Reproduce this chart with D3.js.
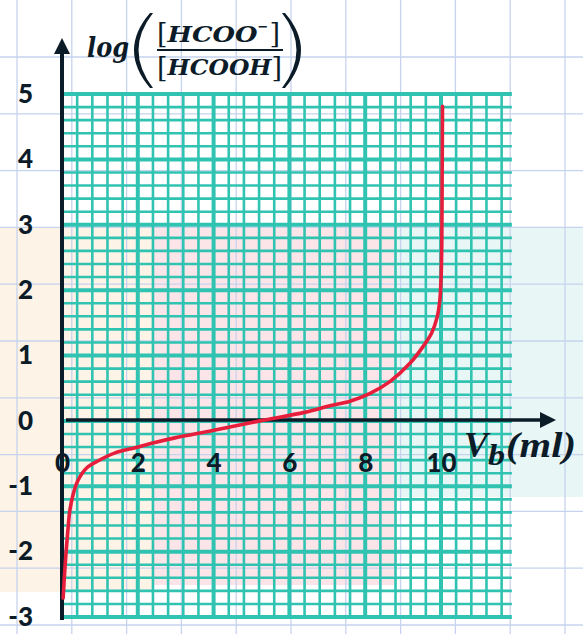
<!DOCTYPE html>
<html>
<head>
<meta charset="utf-8">
<script src="https://cdn.jsdelivr.net/npm/d3@7"></script>
<style>
  html, body { margin: 0; padding: 0; background: #ffffff; }
  svg { display: block; }
</style>
</head>
<body>
<svg id="chart" width="583" height="634"></svg>
<script>
// ---- data ----
const vb = [0.03, 0.08, 0.15, 0.21, 0.30, 0.43, 0.65, 0.96, 1.40, 1.93, 2.45, 2.98, 4.04, 5.22, 6.40, 7.07, 7.60, 8.13, 8.65, 9.18, 9.53, 9.75, 9.90, 9.97, 10.00, 10.02, 10.03, 10.04];
const logRatio = [-2.71, -2.23, -1.71, -1.36, -1.11, -0.90, -0.72, -0.61, -0.49, -0.41, -0.33, -0.26, -0.14, 0.00, 0.13, 0.23, 0.30, 0.42, 0.60, 0.88, 1.14, 1.34, 1.59, 1.85, 2.16, 2.67, 3.69, 4.81];
const xTicks = [0, 2, 4, 6, 8, 10];
const yTicks = [5, 4, 3, 2, 1, 0, -1, -2, -3];
const xTickLabels = ["0", "2", "4", "6", "8", "10"];
const yTickLabels = ["5", "4", "3", "2", "1", "0", "-1", "-2", "-3"];

const svg = d3.select("#chart");
const W = 583, H = 634;

const x = d3.scaleLinear().domain([0, 10]).range([62, 441]);
const y = d3.scaleLinear().domain([-3, 5]).range([617, 94]);
const xGridEnd = 11.87;

const ink = "#0c1b28";
const teal = "#31c3b1";

// ---- background paper tints (watermark) ----
const bg = svg.append("g");
bg.append("rect").attr("x", 0).attr("y", 227).attr("width", 152).attr("height", 365).attr("fill", "#fdf3e7");
bg.append("rect").attr("x", 152).attr("y", 227).attr("width", 244).attr("height", 358).attr("fill", "#fbe5e8");
bg.append("rect").attr("x", 396).attr("y", 227).attr("width", 187).attr("height", 270).attr("fill", "#e8f6f5");

// paper grid
const paper = svg.append("g").attr("stroke", "#c6d3ee").attr("stroke-width", 1.3);
d3.range(17, W, 54.8).forEach(px => {
  paper.append("line").attr("x1", px).attr("x2", px).attr("y1", 0).attr("y2", H);
});
d3.range(57, H, 56.8).forEach(py => {
  paper.append("line").attr("x1", 0).attr("x2", W).attr("y1", py).attr("y2", py);
});

// ---- teal millimetre grid ----
const grid = svg.append("g").attr("stroke", teal);
d3.range(0, 30).forEach(k => {
  const v = k * 0.4;
  grid.append("line")
    .attr("x1", x(v)).attr("x2", x(v))
    .attr("y1", y(5)).attr("y2", y(-3))
    .attr("stroke-width", k % 5 === 0 ? 4 : 2.6);
});
d3.range(0, 41).forEach(k => {
  const v = -3 + k * 0.2;
  grid.append("line")
    .attr("x1", x(0)).attr("x2", x(xGridEnd))
    .attr("y1", y(v)).attr("y2", y(v))
    .attr("stroke-width", k % 5 === 0 ? 4 : 2.6);
});

// ---- axes lines with arrows ----
svg.append("line").attr("x1", x(0) + 4).attr("x2", 542)
  .attr("y1", y(0) - 1).attr("y2", y(0) - 1)
  .attr("stroke", ink).attr("stroke-width", 3.5);
svg.append("path").attr("d", `M556,${y(0) - 1} L540,${y(0) - 9} L540,${y(0) + 7} Z`).attr("fill", ink);

svg.append("line").attr("x1", x(0)).attr("x2", x(0))
  .attr("y1", 620).attr("y2", 52)
  .attr("stroke", ink).attr("stroke-width", 4);
svg.append("path").attr("d", `M${x(0)},38 L${x(0) - 8},54 L${x(0) + 8},54 Z`).attr("fill", ink);

// ---- curve ----
const pts = vb.map((v, i) => [v, logRatio[i]]);
const line = d3.line().x(d => x(d[0])).y(d => y(d[1])).curve(d3.curveCatmullRom.alpha(0.5));
svg.append("path").datum(pts).attr("d", line)
  .attr("fill", "none").attr("stroke", "#e61e3c").attr("stroke-width", 3.6)
  .attr("stroke-linecap", "round").attr("stroke-linejoin", "round");

// ---- tick labels via d3 axes ----
const tickFont = "Lato, 'Open Sans', sans-serif";
const yAxis = d3.axisLeft(y).tickValues(yTicks).tickSize(0).tickPadding(29)
  .tickFormat((d, i) => yTickLabels[i]);
const gy = svg.append("g").attr("transform", `translate(${x(0)},0)`).call(yAxis);
gy.select(".domain").remove();
gy.selectAll("text").attr("fill", ink).style("font-family", tickFont)
  .style("font-weight", 900).style("font-size", "26px");

const xAxis = d3.axisBottom(x).tickValues(xTicks).tickSize(0).tickPadding(33)
  .tickFormat((d, i) => xTickLabels[i]);
const gx = svg.append("g").attr("transform", `translate(0,${y(0)})`).call(xAxis);
gx.select(".domain").remove();
gx.selectAll("text").attr("fill", ink).style("font-family", tickFont)
  .style("font-weight", 900).style("font-size", "26px");

// ---- axis titles ----
const serif = "'DejaVu Serif', 'Liberation Serif', serif";
const xSerif = "'Liberation Serif', 'DejaVu Serif', serif";
// x title: V_b(ml)
const xt = svg.append("text").attr("x", 464).attr("y", 457).attr("fill", ink)
  .style("font-family", xSerif).style("font-weight", 700).style("font-style", "italic");
xt.append("tspan").attr("textLength", 24).attr("lengthAdjust", "spacingAndGlyphs")
  .style("font-size", "36px").text("V");
xt.append("tspan").attr("dy", 8).attr("textLength", 17).attr("lengthAdjust", "spacingAndGlyphs")
  .style("font-size", "30px").text("b");
xt.append("tspan").attr("dy", -8).attr("dx", 1).attr("textLength", 70).attr("lengthAdjust", "spacingAndGlyphs")
  .style("font-size", "36px").text("(ml)");

// y title
svg.append("text").attr("x", 87).attr("y", 57).attr("fill", ink)
  .attr("textLength", 42).attr("lengthAdjust", "spacingAndGlyphs")
  .style("font-family", serif).style("font-weight", 700).style("font-style", "italic")
  .style("font-size", "28px").text("log");

// big parentheses
svg.append("path")
  .attr("d", "M153,13 Q124,50 153,88 L150,88 Q118,50 150,13 Z")
  .attr("fill", ink);
svg.append("path")
  .attr("d", "M282,13 Q311,50 282,88 L285,88 Q317,50 285,13 Z")
  .attr("fill", ink);

const fracFont = "'DejaVu Serif', serif";
// numerator [HCOO−]
const num = svg.append("text").attr("x", 157).attr("y", 43).attr("fill", ink)
  .style("font-family", fracFont).style("font-size", "27px");
num.append("tspan").text("[");
num.append("tspan").attr("dy", -1).attr("textLength", 90).attr("lengthAdjust", "spacingAndGlyphs")
  .style("font-weight", 700).style("font-style", "italic").style("font-size", "23px").text("HCOO");
num.append("tspan").attr("dy", -11).style("font-weight", 700).style("font-size", "13px").text("−");
num.append("tspan").attr("dy", 12).attr("dx", 1).text("]");

svg.append("line").attr("x1", 157).attr("x2", 283).attr("y1", 50).attr("y2", 50)
  .attr("stroke", ink).attr("stroke-width", 2);

// denominator [HCOOH]
const den = svg.append("text").attr("x", 157).attr("y", 77).attr("fill", ink)
  .style("font-family", fracFont).style("font-size", "27px");
den.append("tspan").text("[");
den.append("tspan").attr("dy", -2).attr("textLength", 104).attr("lengthAdjust", "spacingAndGlyphs")
  .style("font-weight", 700).style("font-style", "italic").style("font-size", "23px").text("HCOOH");
den.append("tspan").attr("dy", 2).text("]");
</script>
</body>
</html>
